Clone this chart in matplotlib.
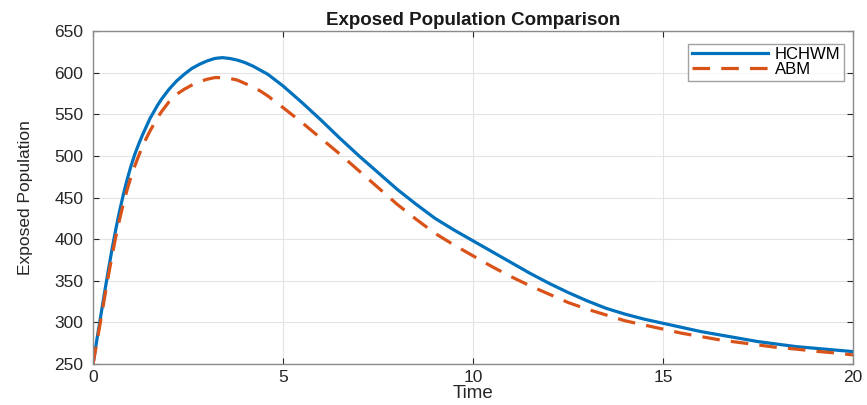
import matplotlib
matplotlib.use('Agg')
import matplotlib.pyplot as plt

plt.rcParams['font.family'] = ['Liberation Sans', 'DejaVu Sans']

# values
time = [0, 0.1, 0.2, 0.3, 0.4, 0.5, 0.6, 0.7, 0.8, 0.9, 1.0,
        1.1, 1.2, 1.3, 1.4, 1.5, 1.6, 1.7, 1.8, 1.9, 2.0,
        2.2, 2.4, 2.6, 2.8, 3.0, 3.2, 3.4, 3.6, 3.8, 4.0,
        4.2, 4.4, 4.6, 4.8, 5.0, 5.5, 6.0, 6.5, 7.0, 7.5, 8.0, 8.5, 9.0, 9.5,
        10, 10.5, 11, 11.5, 12, 12.5, 13, 13.5, 14, 14.5, 15, 15.5,
        16, 16.5, 17, 17.5, 18, 18.5, 19, 19.5, 20]
hchwm = [250, 279, 307, 335, 362, 388, 412, 434, 454, 472, 488,
         502, 514, 525, 535, 545, 553, 561, 568, 574, 580,
         590, 598, 605, 610, 614, 617, 618, 617, 615, 612,
         608, 603, 598, 591, 584, 564, 543, 521, 500, 480, 460, 442, 425, 411,
         398, 385, 372, 359, 347, 336, 326, 317, 310, 304, 299, 294,
         289, 285, 281, 277, 274, 271, 269, 267, 265]
abm = [250, 276, 302, 329, 355, 380, 403, 424, 443, 460, 475,
       488, 500, 511, 521, 530, 538, 546, 553, 559, 565,
       574, 580, 585, 589, 592, 594, 594, 593, 591, 587,
       583, 578, 572, 565, 558, 540, 521, 502, 482, 462, 442, 424, 407, 393,
       380, 367, 355, 344, 334, 324, 316, 309, 302, 297, 292, 287,
       283, 279, 276, 273, 270, 268, 265.5, 263.5, 261]

x_ticks = [0, 5, 10, 15, 20]
y_ticks = [250, 300, 350, 400, 450, 500, 550, 600, 650]

fig = plt.figure(figsize=(8.67, 4.05), dpi=100)
ax = fig.add_axes([0.1073, 0.101, 0.8766, 0.8225])

ax.plot(time, hchwm, color='#0072BD', lw=2.3, label='HCHWM')
ax.plot(time, abm, color='#D95319', lw=2.3, ls=(0, (5.5, 3.5)), label='ABM')

ax.set_xlim(0, 20)
ax.set_ylim(250, 650)
ax.set_xticks(x_ticks)
ax.set_yticks(y_ticks)
ax.grid(True, color='#e4e4e4', lw=0.8)
ax.set_axisbelow(True)

axis_col = '#262626'
for s in ax.spines.values():
    s.set_color('#8a8a8a')
    s.set_linewidth(1.0)
ax.tick_params(direction='in', length=4, width=0.8, color=axis_col,
               labelsize=12.5, labelcolor=axis_col, top=True, right=True)
ax.tick_params(axis='x', pad=4)
ax.tick_params(axis='y', pad=7)

ax.set_title('Exposed Population Comparison', fontsize=13.5, fontweight='bold',
             color='#1a1a1a', pad=4)
ax.set_xlabel('Time', fontsize=13.5, color=axis_col, labelpad=0)
ax.set_ylabel('Exposed Population', fontsize=12.5, color=axis_col, labelpad=15)

leg = ax.legend(loc='upper right', fontsize=12, frameon=True, fancybox=False,
                handlelength=4.6, borderpad=0.2, labelspacing=0,
                handletextpad=0.4, borderaxespad=0,
                bbox_to_anchor=(0.988, 0.961))
leg.get_frame().set_edgecolor('#8a8a8a')
leg.get_frame().set_linewidth(1.0)

fig.savefig('out.png', dpi=100)
